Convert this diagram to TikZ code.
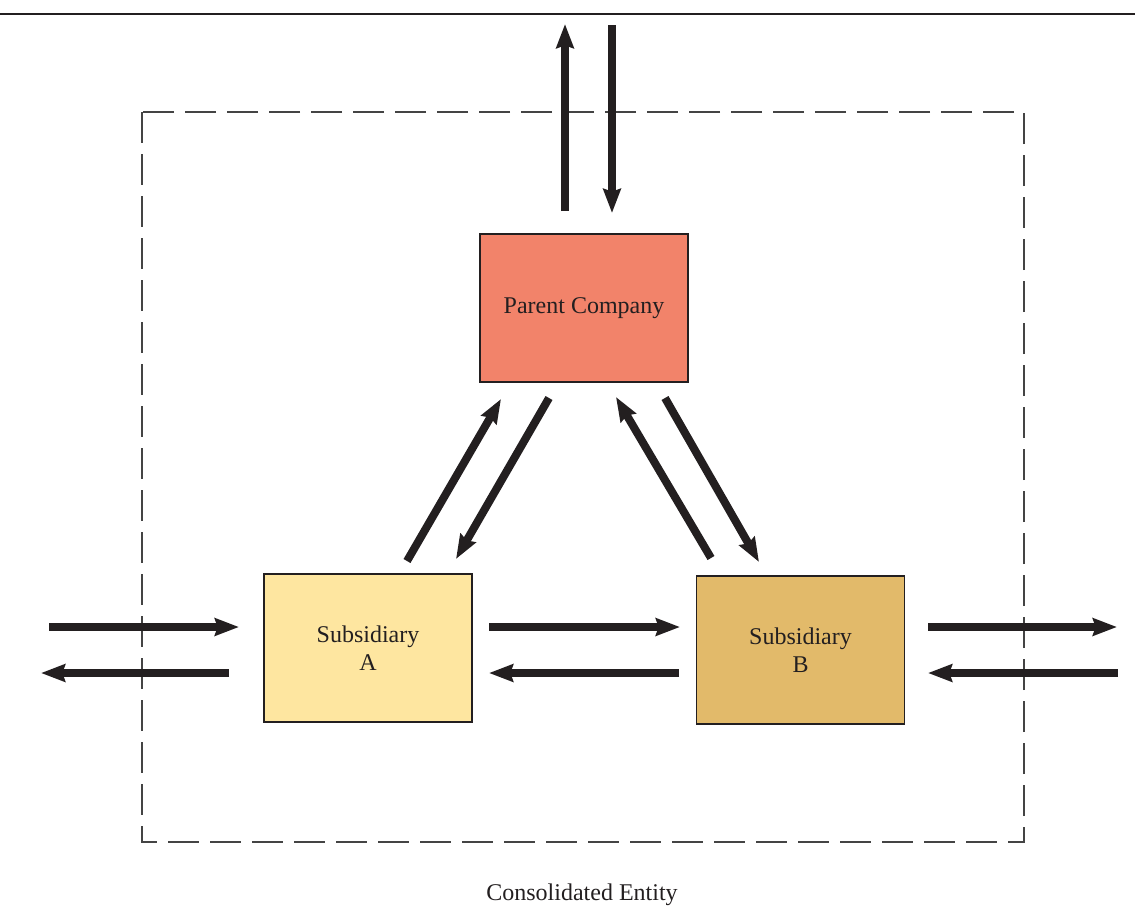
\documentclass[tikz,border=0pt]{standalone}
\usepackage{fontspec}
\setmainfont{Liberation Serif}
\usetikzlibrary{arrows.meta}
\definecolor{parentc}{HTML}{F2836A}
\definecolor{subac}{HTML}{FEE6A0}
\definecolor{subbc}{HTML}{E2BA6A}
\definecolor{ink}{HTML}{231F20}
\definecolor{dashc}{HTML}{444444}
\begin{document}
\begin{tikzpicture}[x=0.75pt,y=-0.75pt,
  company/.style={draw=ink, line width=1.3pt, minimum width=156pt, minimum height=111pt, inner sep=0pt, align=center, text=ink, font=\fontsize{18}{21}\selectfont},
  flow/.style={draw=ink, line width=6pt, -{Stealth[length=18pt,width=13pt,inset=2pt]}},
  boundary/.style={draw=dashc, line width=1.5pt, dash pattern=on 23pt off 8.5pt}
]
\useasboundingbox (0,0) rectangle (1135,915);
\draw[ink, line width=1.5pt] (0,14) -- (1135,14);
\draw[boundary] (142,112) rectangle (1024,842);

\node[company, fill=parentc] (parent) at (584,308) {Parent Company};
\node[company, fill=subac] (suba) at (368,648) {Subsidiary\\A};
\node[company, fill=subbc] (subb) at (800.5,650) {Subsidiary\\B};
\node[text=ink, font=\fontsize{18}{21}\selectfont] (label) at (582,895) {Consolidated Entity};

% top
\coordinate (t1s) at (565,211); \coordinate (t1e) at (565,24);
\coordinate (t2s) at (612,25);  \coordinate (t2e) at (612,213);
\draw[flow] (t1s) -- (t1e);
\draw[flow] (t2s) -- (t2e);

% diagonals left
\coordinate (dl1s) at (407,561); \coordinate (dl1e) at (501,399);
\coordinate (dl2s) at (549,398); \coordinate (dl2e) at (456,559);
\draw[flow] (dl1s) -- (dl1e);
\draw[flow] (dl2s) -- (dl2e);

% diagonals right
\coordinate (dr1s) at (711,558); \coordinate (dr1e) at (616,397);
\coordinate (dr2s) at (665,398); \coordinate (dr2e) at (759,562);
\draw[flow] (dr1s) -- (dr1e);
\draw[flow] (dr2s) -- (dr2e);

% horizontal left
\coordinate (hl1s) at (49,627);  \coordinate (hl1e) at (239,627);
\coordinate (hl2s) at (229,673); \coordinate (hl2e) at (41,673);
\draw[flow] (hl1s) -- (hl1e);
\draw[flow] (hl2s) -- (hl2e);

% horizontal middle
\coordinate (hm1s) at (489,627); \coordinate (hm1e) at (680,627);
\coordinate (hm2s) at (679,673); \coordinate (hm2e) at (489,673);
\draw[flow] (hm1s) -- (hm1e);
\draw[flow] (hm2s) -- (hm2e);

% horizontal right
\coordinate (hr1s) at (928,627);  \coordinate (hr1e) at (1117,627);
\coordinate (hr2s) at (1118,673); \coordinate (hr2e) at (928,673);
\draw[flow] (hr1s) -- (hr1e);
\draw[flow] (hr2s) -- (hr2e);
\end{tikzpicture}
\end{document}
